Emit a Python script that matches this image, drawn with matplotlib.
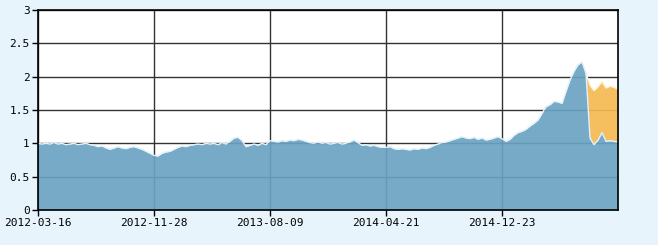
import numpy as np
import matplotlib.pyplot as plt

# fund NAV, one point every few trading days
nav = [1.00, 0.99, 1.00, 0.99, 1.01, 0.99, 1.00, 0.98, 0.99, 1.00,
       0.98, 0.99, 1.00, 0.98, 0.97, 0.95, 0.96, 0.93, 0.91, 0.93,
       0.95, 0.93, 0.92, 0.94, 0.95, 0.93, 0.91, 0.88, 0.85, 0.82,
       0.81, 0.85, 0.87, 0.88, 0.91, 0.94, 0.96, 0.95, 0.97, 0.98,
       0.99, 0.98, 1.00, 0.99, 1.00, 0.98, 1.01, 0.99, 1.03, 1.08,
       1.09, 1.04, 0.95, 0.97, 0.99, 0.97, 1.00, 0.98, 1.04, 1.03,
       1.02, 1.04, 1.03, 1.05, 1.04, 1.06, 1.05, 1.03, 1.01, 1.00,
       1.02, 1.00, 1.01, 0.99, 1.00, 1.01, 0.99, 1.00, 1.02, 1.05,
       1.01, 0.97, 0.98, 0.96, 0.97, 0.95, 0.94, 0.94, 0.95, 0.92,
       0.91, 0.92, 0.91, 0.90, 0.92, 0.91, 0.93, 0.92, 0.94, 0.97,
       0.99, 1.01, 1.02, 1.04, 1.06, 1.08, 1.10, 1.08, 1.07, 1.09,
       1.06, 1.08, 1.05, 1.06, 1.08, 1.10, 1.07, 1.03, 1.06, 1.12,
       1.16, 1.18, 1.21, 1.26, 1.30, 1.35, 1.45, 1.55, 1.58, 1.63,
       1.62, 1.60, 1.78, 1.95, 2.08, 2.18, 2.22, 2.05, 1.08, 0.98,
       1.05, 1.16, 1.03, 1.04, 1.03, 1.02]
# cumulative NAV after the split
cum_tail = [1.87, 1.79, 1.85, 1.93, 1.83, 1.86, 1.84, 1.81]
split_at = 138
cum_nav = nav[:split_at] + cum_tail

tick_labels = ['2012-03-16', '2012-11-28', '2013-08-09', '2014-04-21', '2014-12-23']
tick_step = 29

x = np.arange(len(nav))
nav_a = np.array(nav)
cum_a = np.array(cum_nav)

fig = plt.figure(figsize=(6.58, 2.45), dpi=100, facecolor='#e8f4fc')
ax = fig.add_axes([38/658, 35/245, 580/658, 200/245])
ax.set_facecolor('white')

ax.set_axisbelow(True)
ax.grid(True, color='#333333', linewidth=1)

ax.fill_between(x, nav_a, cum_a, where=cum_a > nav_a, interpolate=True,
                color='#f5ba52', alpha=0.92, linewidth=0, zorder=2)
ax.fill_between(x, 0, nav_a, color='#6aa3c2', alpha=0.92, linewidth=0, zorder=3)
ax.plot(x[split_at - 1:], cum_a[split_at - 1:], color='#fff3d6', linewidth=1.0, zorder=4)
ax.plot(x, nav_a, color='#e2f1fb', linewidth=1.0, zorder=5)

ax.set_xlim(0, len(nav) - 1)
ax.set_ylim(0, 3)
ax.set_xticks(np.arange(len(tick_labels)) * tick_step)
ax.set_xticklabels(tick_labels)
ax.set_yticks([0, 0.5, 1, 1.5, 2, 2.5, 3])
ax.set_yticklabels(['0', '0.5', '1', '1.5', '2', '2.5', '3'])
ax.tick_params(direction='out', length=4, width=1, color='black',
               labelsize=8, labelcolor='black', pad=2)
for lab in ax.get_xticklabels() + ax.get_yticklabels():
    lab.set_family('DejaVu Sans Mono')
for s in ax.spines.values():
    s.set_color('black')
    s.set_linewidth(1.2)
    s.set_zorder(6)

plt.savefig('out.png', dpi=100, facecolor=fig.get_facecolor())
